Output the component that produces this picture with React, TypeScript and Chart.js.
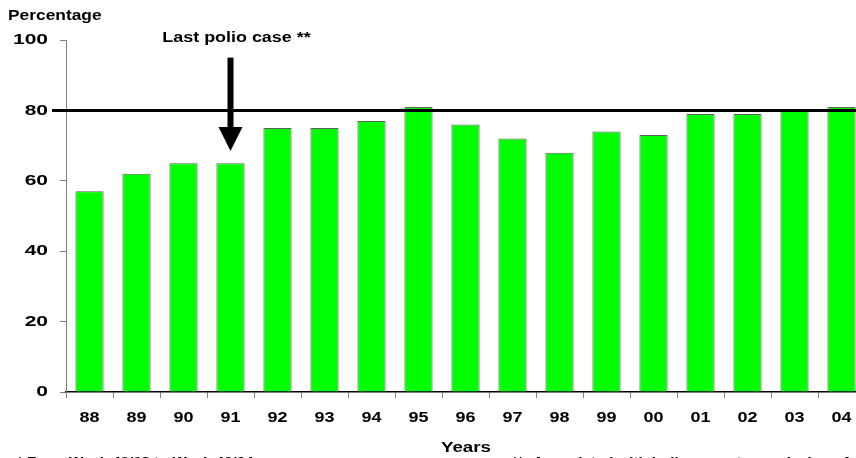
import React, { useEffect, useRef } from "react";
import { Chart, registerables } from "chart.js";

Chart.register(...registerables);

const years = ["88", "89", "90", "91", "92", "93", "94", "95", "96", "97", "98", "99", "00", "01", "02", "03", "04"];
const coverage = [57, 62, 65, 65, 75, 75, 77, 81, 76, 72, 68, 74, 73, 79, 79, 80, 81];
const targetValue = 80;
const yTicks = [0, 20, 40, 60, 80, 100];
const lastCaseIndex = 3;
const arrowTopValue = 95;
const arrowTipValue = 68.5;
const annotationText = "Last polio case **";
const yTitle = "Percentage";
const xTitle = "Years";
const footLeft = "* From Week 40/03 to Week 40/04";
const footRight = "**: Associated with indigenous transmission of wild poliovirus";

const FONT = "'Liberation Sans', Arial, sans-serif";

function stretchText(ctx: CanvasRenderingContext2D, text: string, x: number, y: number, align: CanvasTextAlign, size: number, sx: number) {
  ctx.save();
  ctx.font = `bold ${size}px ${FONT}`;
  ctx.textAlign = align;
  ctx.textBaseline = "middle";
  ctx.translate(x, y);
  ctx.scale(sx, 1);
  ctx.fillText(text, 0, 0);
  ctx.restore();
}

export default function App() {
  const ref = useRef<HTMLCanvasElement | null>(null);
  useEffect(() => {
    document.body.style.margin = "0";
    const canvas = ref.current!;
    const overlay = {
      id: "overlay",
      afterDatasetsDraw(chart: any) {
        const ctx = chart.ctx;
        const x = chart.scales.x;
        const y = chart.scales.y;
        const area = chart.chartArea;
        ctx.save();
        // target line
        const ly = y.getPixelForValue(targetValue);
        ctx.strokeStyle = "#000";
        ctx.lineWidth = 3;
        ctx.beginPath();
        ctx.moveTo(52, ly);
        ctx.lineTo(area.right + 20, ly);
        ctx.stroke();
        // arrow
        const ax = x.getPixelForValue(lastCaseIndex);
        const top = y.getPixelForValue(arrowTopValue);
        const tip = y.getPixelForValue(arrowTipValue);
        const headLen = 24;
        ctx.fillStyle = "#000";
        ctx.fillRect(ax - 3, top, 6, tip - top - headLen + 1);
        ctx.beginPath();
        ctx.moveTo(ax - 12, tip - headLen);
        ctx.lineTo(ax + 12, tip - headLen);
        ctx.lineTo(ax, tip);
        ctx.closePath();
        ctx.fill();
        // tick labels
        ctx.fillStyle = "#000";
        yTicks.forEach((v) => {
          stretchText(ctx, String(v), 48, y.getPixelForValue(v), "right", 15, 1.4);
        });
        years.forEach((lab, i) => {
          stretchText(ctx, lab, x.getPixelForValue(i), 418, "center", 15, 1.2);
        });
        // titles and notes
        stretchText(ctx, annotationText, ax + 6, 38, "center", 14, 1.28);
        stretchText(ctx, yTitle, 8, 16, "left", 14, 1.24);
        stretchText(ctx, xTitle, 466, 448, "center", 15, 1.25);
        stretchText(ctx, footLeft, 17, 462, "left", 11, 1.37);
        stretchText(ctx, footRight, 512, 462, "left", 11, 1.37);
        ctx.restore();
      },
    };
    const chart = new Chart(canvas, {
      type: "bar",
      data: {
        labels: years,
        datasets: [
          {
            data: coverage,
            backgroundColor: "#00ff00",
            borderColor: "#606060",
            borderWidth: 1,
            barPercentage: 0.6,
            categoryPercentage: 1,
          },
        ],
      },
      options: {
        animation: false,
        responsive: false,
        devicePixelRatio: 1,
        layout: { padding: { left: 8, right: 15, top: 40, bottom: 0 } },
        plugins: { legend: { display: false }, tooltip: { enabled: false } },
        scales: {
          x: {
            offset: true,
            grid: { offset: true, drawOnChartArea: false, drawTicks: true, tickLength: 6, color: "#808080" },
            border: { color: "#000", width: 1.5 },
            ticks: { display: false, autoSkip: false },
            afterFit: (s: any) => { s.height = 78; },
          },
          y: {
            min: 0,
            max: 100,
            afterBuildTicks: (s: any) => { s.ticks = yTicks.map((v) => ({ value: v })); },
            grid: { drawOnChartArea: false, drawTicks: true, tickLength: 6, color: "#808080" },
            border: { color: "#808080", width: 1 },
            ticks: { display: false },
            afterFit: (s: any) => { s.width = 58; },
          },
        },
      },
      plugins: [overlay],
    });
    return () => chart.destroy();
  }, []);
  return (
    <div style={{ position: "absolute", left: 0, top: 0, width: 856, height: 458, overflow: "hidden" }}>
      <canvas ref={ref} width={880} height={470} style={{ display: "block" }} />
    </div>
  );
}
